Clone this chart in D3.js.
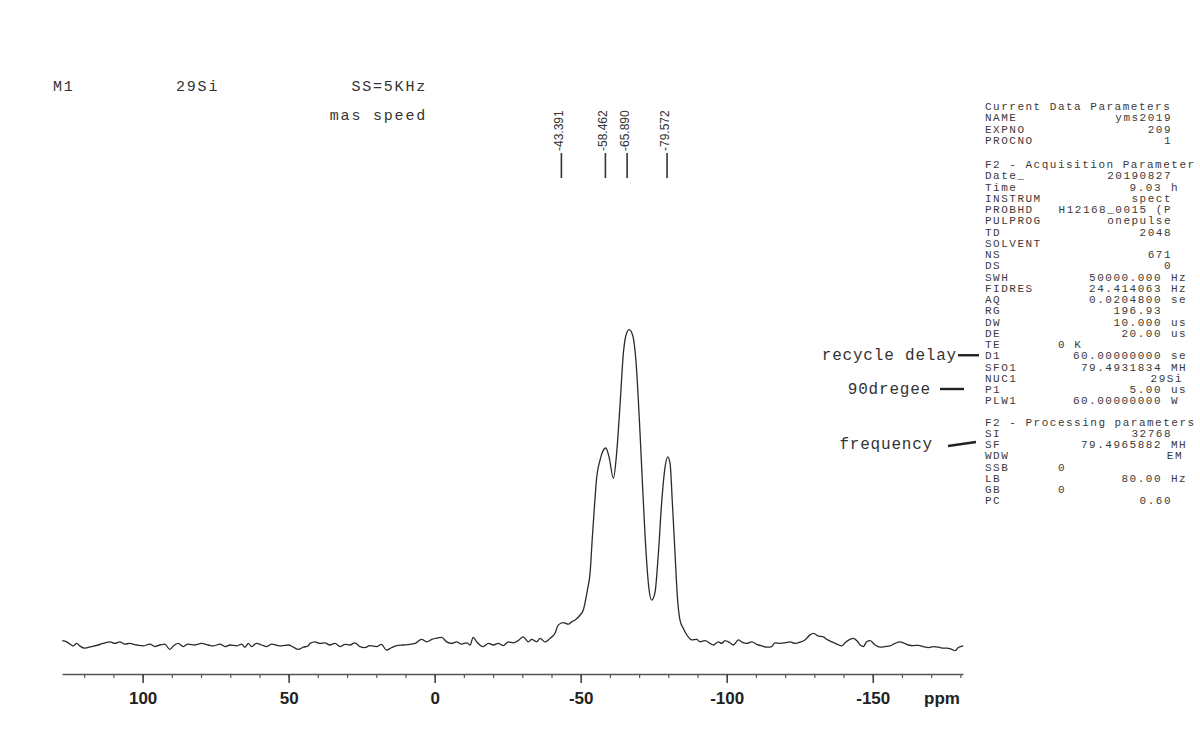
<!DOCTYPE html>
<html>
<head>
<meta charset="utf-8">
<script src="https://cdn.jsdelivr.net/npm/d3@7"></script>
<style>
  body { margin: 0; background: #fff; }
  svg { display: block; }
</style>
</head>
<body>
<script>
    var width = 1200;
    var height = 740;

    // trace: shift in ppm, intensity scaled so main peak = 100
    var shiftPpm = [
        127.5, 126.0, 124.9, 123.8, 122.6, 121.5, 119.8, 117.5, 115.2, 112.9,
        111.2, 109.5, 107.8, 106.1, 104.4, 102.1, 99.8, 97.5, 95.8, 94.1,
        92.4, 90.7, 89.5, 87.8, 86.1, 84.4, 82.1, 79.8, 77.5, 75.8,
        73.5, 71.8, 70.1, 67.8, 66.1, 65.0, 63.8, 62.7, 61.0, 59.2,
        57.5, 55.8, 54.1, 52.4, 50.1, 48.4, 46.7, 45.0, 43.3, 42.7,
        41.0, 39.3, 37.6, 35.9, 34.1, 32.4, 30.7, 29.0, 27.3, 25.6,
        23.9, 22.2, 19.9, 18.2, 16.5, 14.7, 13.0, 10.8, 8.5, 6.7,
        4.5, 2.7, 1.0, -0.7, -2.4, -4.1, -5.8, -7.5, -9.2, -11.0,
        -12.1, -13.2, -14.4, -16.6, -18.4, -20.1, -21.8, -23.5, -25.2, -26.9,
        -28.6, -30.3, -32.1, -33.2, -34.9, -36.1, -37.8, -39.5, -41.2, -42.3,
        -44.0, -45.8, -47.0, -48.1, -49.8, -50.9, -52.3, -53.2, -54.0, -54.7,
        -55.5, -56.6, -57.5, -58.6, -59.7, -61.2, -62.3, -63.5, -64.6, -65.5,
        -66.6, -67.8, -68.9, -70.1, -71.2, -72.4, -73.3, -74.3, -75.4, -76.6,
        -77.7, -78.9, -79.8, -80.6, -81.4, -82.3, -83.1, -84.0, -85.1, -86.8,
        -88.0, -89.7, -90.9, -92.6, -94.3, -95.4, -97.1, -98.3, -99.4, -101.1,
        -102.3, -104.0, -105.1, -106.8, -108.6, -110.3, -112.0, -113.7, -115.4, -116.5,
        -118.3, -120.0, -121.7, -123.4, -125.1, -126.8, -128.5, -129.7, -131.4, -133.1,
        -134.2, -136.0, -137.7, -139.4, -140.5, -142.2, -143.4, -144.5, -145.7, -146.8,
        -147.9, -149.1, -150.8, -152.5, -154.2, -155.9, -157.6, -159.3, -160.5, -162.2,
        -163.9, -165.6, -167.3, -169.0, -170.8, -172.5, -174.2, -175.3, -177.1, -178.2,
        -179.3, -181.0
    ];
    var intensity = [
        1.4, 1.0, 0.3, -0.3, 0.5, -0.3, -1.0, -0.5, 0, 0.7,
        1.0, 0.5, 1.0, 0.3, 0.5, 0, -0.3, 0.3, -0.5, 0,
        0.3, -1.4, -0.3, 0.5, -0.5, 0.3, 0, 0.5, 0, -0.3,
        0.3, -0.5, 0, -0.3, 0.3, -0.7, 0.5, -0.5, 0.5, 0,
        -0.5, 0.3, -0.1, -0.3, 0, -0.7, -1.4, -0.7, -0.3, 0.5,
        1.0, 0.5, 0.7, 0, 0.5, -0.5, 0.2, 0, 0.7, -0.5,
        -0.8, -0.2, -0.5, 0.2, -1.6, -0.8, -0.2, 0, 0.2, 0.5,
        1.8, 1.0, 1.8, 2.2, 2.4, 1.0, 0.5, 1.0, 0.3, 0.7,
        0, 2.4, 1.0, -0.5, 0.5, 0, 0.5, -0.2, 1.0, 0.7,
        1.4, 2.6, 1.0, 1.8, 1.0, 2.1, 1.0, 2.1, 3.7, 6.3,
        7.1, 6.6, 7.4, 7.9, 9.5, 11.1, 17.4, 22.7, 34.3, 43.8,
        53.3, 58.5, 61.2, 62.4, 59.6, 52.8, 60.7, 76.5, 92.3, 98.1,
        99.9, 98.1, 90.2, 71.2, 50.1, 29.0, 18.4, 14.2, 16.4, 29.0,
        44.8, 56.4, 59.6, 57.5, 44.8, 29.0, 15.3, 7.9, 5.3, 2.6,
        1.6, 1.8, 1.0, 1.4, 0.5, 0, 1.0, 0.5, 1.4, 0.7,
        0, 1.6, 1.0, 0.5, 1.0, 0.2, -0.3, -0.7, -0.5, 0.7,
        0.5, 0.7, 1.0, 0.5, 0.9, 1.6, 3.2, 3.7, 2.8, 2.6,
        1.8, 1.0, 0.3, -0.3, 0.7, 1.8, 2.1, 1.4, 0, -0.5,
        1.0, 1.4, 0, -0.7, -0.5, -0.3, 0.5, 1.0, 0.7, 0,
        -0.2, -0.1, -0.5, -0.8, -0.5, -0.7, -1.0, -1.0, -1.4, -1.8,
        -0.8, -0.3
    ];

    var peakLabels = [-43.391, -58.462, -65.890, -79.572];
    var majorTicks = [100, 50, 0, -50, -100, -150];
    var minorTicks = [120, 110, 100, 90, 80, 70, 60, 50, 40, 30, 20, 10, 0, -10, -20, -30, -40,
        -50, -60, -70, -80, -90, -100, -110, -120, -130, -140, -150, -160, -170, -180];
    var axisUnit = 'ppm';

    var titleLeft = ['M1', '29Si'];
    var titleRight = ['SS=5KHz', 'mas speed'];

    // parameter listing: name, value, unit, alignment kind
    var currentParams = [
        ['NAME', 'yms2019', '', 'n'],
        ['EXPNO', '209', '', 'n'],
        ['PROCNO', '1', '', 'n']
    ];
    var acquParams = [
        ['Date_', '20190827', '', 'n'],
        ['Time', '9.03', 'h', 'u'],
        ['INSTRUM', 'spect', '', 'n'],
        ['PROBHD', 'H12168_0015 (P', '', 'n'],
        ['PULPROG', 'onepulse', '', 'n'],
        ['TD', '2048', '', 'n'],
        ['SOLVENT', '', '', 'n'],
        ['NS', '671', '', 'n'],
        ['DS', '0', '', 'n'],
        ['SWH', '50000.000', 'Hz', 'u'],
        ['FIDRES', '24.414063', 'Hz', 'u'],
        ['AQ', '0.0204800', 'se', 'u'],
        ['RG', '196.93', '', 'u'],
        ['DW', '10.000', 'us', 'u'],
        ['DE', '20.00', 'us', 'u'],
        ['TE', '0 K', '', 'm'],
        ['D1', '60.00000000', 'se', 'u'],
        ['SFO1', '79.4931834', 'MH', 'u'],
        ['NUC1', '29Si', '', 's'],
        ['P1', '5.00', 'us', 'u'],
        ['PLW1', '60.00000000', 'W', 'u']
    ];
    var procParams = [
        ['SI', '32768', '', 'n'],
        ['SF', '79.4965882', 'MH', 'u'],
        ['WDW', 'EM', '', 's'],
        ['SSB', '0', '', 'm'],
        ['LB', '80.00', 'Hz', 'u'],
        ['GB', '0', '', 'm'],
        ['PC', '0.60', '', 'n']
    ];
    var sections = [
        ['Current Data Parameters', currentParams],
        ['F2 - Acquisition Parameter', acquParams],
        ['F2 - Processing parameters', procParams]
    ];

    // hand-written notes pointing at rows
    var notes = [['recycle delay', 'D1'], ['90dregee', 'P1'], ['frequency', 'SF']];
    var noteLayout = [
        {textEnd: 957, dashFrom: 958, dashTo: 979, tilt: 0},
        {textEnd: 931, dashFrom: 940, dashTo: 964, tilt: 0},
        {textEnd: 933, dashFrom: 948, dashTo: 976, tilt: 2}
    ];

    var ink = '#2b2b2b';
    var monoFont = '"Liberation Mono", "Courier New", monospace';

    var svg = d3.select('body')
        .append('svg')
        .attr('width', width)
        .attr('height', height)
        .style('background', '#fff');

    //scales
    var xScale = d3.scaleLinear()
        .domain([127.6, -180.9])
        .range([62, 963]);

    var yScale = d3.scaleLinear()
        .domain([0, 100])
        .range([645, 329.3]);

    var axisY = 674;

    //axis: minor ticks first, then labelled majors
    svg.append('g')
        .attr('transform', 'translate(0,' + axisY + ')')
        .call(d3.axisBottom(xScale).tickValues(minorTicks).tickSize(4).tickSizeOuter(0).tickFormat(''))
        .call(g => g.select('.domain').attr('stroke', '#555').attr('stroke-width', 1.4))
        .call(g => g.selectAll('.tick line').attr('stroke', '#555').attr('stroke-width', 1.2));

    svg.append('g')
        .attr('transform', 'translate(0,' + axisY + ')')
        .call(d3.axisBottom(xScale).tickValues(majorTicks).tickSize(9).tickSizeOuter(0).tickPadding(9)
            .tickFormat(d => String(d)))
        .call(g => g.select('.domain').remove())
        .call(g => g.selectAll('.tick line').attr('stroke', '#444').attr('stroke-width', 1.6))
        .call(g => g.selectAll('.tick text')
            .attr('fill', '#222')
            .style('font-family', '"Liberation Sans", Arial, sans-serif')
            .style('font-size', '17px')
            .style('font-weight', 'bold'));

    svg.append('text')
        .attr('x', 924)
        .attr('y', axisY + 30)
        .attr('fill', '#222')
        .style('font-family', '"Liberation Sans", Arial, sans-serif')
        .style('font-size', '17px')
        .style('font-weight', 'bold')
        .text(axisUnit);

    //spectrum trace
    var line = d3.line()
        .x((d, i) => xScale(shiftPpm[i]))
        .y(d => yScale(d))
        .curve(d3.curveMonotoneX);

    svg.append('path')
        .datum(intensity)
        .attr('d', line)
        .attr('fill', 'none')
        .attr('stroke', ink)
        .attr('stroke-width', 1.3)
        .attr('stroke-linejoin', 'round');

    //peak pick labels
    var picks = svg.selectAll('.pick')
        .data(peakLabels)
        .enter()
        .append('g')
        .attr('class', 'pick');

    picks.append('line')
        .attr('x1', d => xScale(d))
        .attr('x2', d => xScale(d))
        .attr('y1', 153)
        .attr('y2', 178)
        .attr('stroke', '#333')
        .attr('stroke-width', 1.6);

    picks.append('text')
        .attr('transform', d => 'translate(' + (xScale(d) + 1.5) + ',151) rotate(-90)')
        .attr('fill', '#333')
        .style('font-family', '"Liberation Sans", Arial, sans-serif')
        .style('font-size', '12px')
        .text(d => d.toFixed(3));

    //title text, top left
    var titleStyle = sel => sel
        .attr('fill', '#333')
        .style('font-family', monoFont)
        .style('font-size', '15px')
        .style('letter-spacing', '1.8px');

    svg.selectAll('.tl')
        .data(titleLeft)
        .enter()
        .append('text')
        .attr('class', 'tl')
        .attr('x', (d, i) => [53, 176][i])
        .attr('y', 91)
        .call(titleStyle)
        .text(d => d);

    svg.selectAll('.tr')
        .data(titleRight)
        .enter()
        .append('text')
        .attr('class', 'tr')
        .attr('x', 427)
        .attr('y', (d, i) => 91 + i * 29)
        .attr('text-anchor', 'end')
        .call(titleStyle)
        .text(d => d);

    //parameter panel
    var panelX = 985;
    var rowH = 11.25;
    var rowY = {};
    var panel = svg.append('g')
        .attr('fill', '#3a3a3a')
        .style('font-family', monoFont)
        .style('font-size', '11px')
        .style('letter-spacing', '1.5px');

    var y = 110;
    sections.forEach((sec, s) => {
        if (s > 0) y += (s == 1 ? 13 : 10);
        panel.append('text').attr('x', panelX).attr('y', y).text(sec[0]);
        y += rowH;
        sec[1].forEach(row => {
            rowY[row[0]] = y;
            panel.append('text').attr('x', panelX).attr('y', y).text(row[0]);
            if (row[3] == 'n') {
                panel.append('text').attr('x', 1172).attr('y', y).attr('text-anchor', 'end').text(row[1]);
            } else if (row[3] == 's') {
                panel.append('text').attr('x', 1183).attr('y', y).attr('text-anchor', 'end').text(row[1]);
            } else if (row[3] == 'm') {
                panel.append('text').attr('x', 1058).attr('y', y).text(row[1]);
            } else {
                panel.append('text').attr('x', 1162).attr('y', y).attr('text-anchor', 'end').text(row[1]);
                panel.append('text').attr('x', 1171).attr('y', y).text(row[2]);
            }
            y += rowH;
        });
    });

    //notes with dashes
    notes.forEach((n, i) => {
        var ly = rowY[n[1]] - 4;
        var lay = noteLayout[i];
        svg.append('text')
            .attr('x', lay.textEnd)
            .attr('y', ly + 5)
            .attr('text-anchor', 'end')
            .attr('fill', '#333')
            .style('font-family', monoFont)
            .style('font-size', '16px')
            .style('letter-spacing', '0.8px')
            .text(n[0]);
        svg.append('line')
            .attr('x1', lay.dashFrom)
            .attr('x2', lay.dashTo)
            .attr('y1', ly + lay.tilt)
            .attr('y2', ly - lay.tilt)
            .attr('stroke', '#222')
            .attr('stroke-width', 2.4);
    });
</script>
</body>
</html>
